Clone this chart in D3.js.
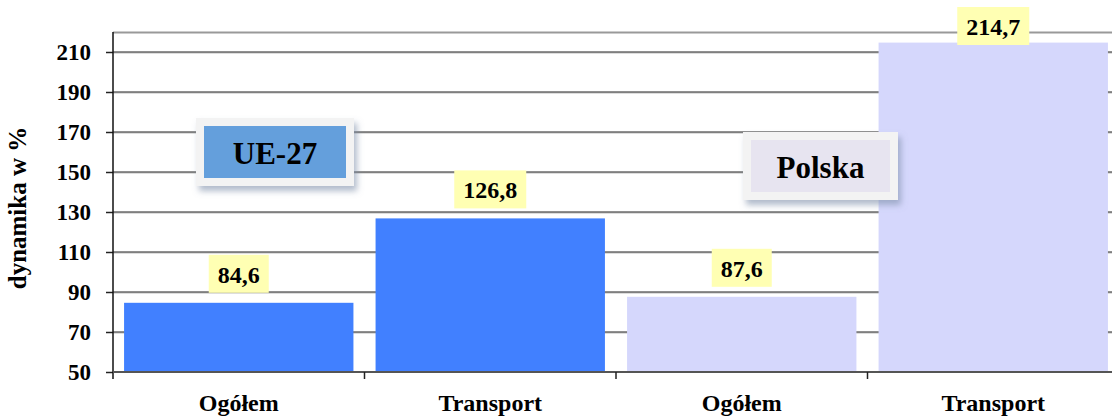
<!DOCTYPE html>
<html>
<head>
<meta charset="utf-8">
<script src="https://cdn.jsdelivr.net/npm/d3@7"></script>
<style>
  body { margin: 0; background: #fff; }
  text { font-family: "Liberation Serif", "Times New Roman", serif; font-weight: bold; fill: #000; }
</style>
</head>
<body>
<svg id="chart"></svg>
<script>
// dane
const categories = ["Ogółem", "Transport", "Ogółem", "Transport"];
const groups = ["UE-27", "UE-27", "Polska", "Polska"];
const values = [84.6, 126.8, 87.6, 214.7];
const yTicks = [50, 70, 90, 110, 130, 150, 170, 190, 210];
const legendItems = ["UE-27", "Polska"];

const W = 1112, H = 419;
const plotLeft = 113, plotRight = 1119, plotTop = 32, plotBottom = 372;

const svg = d3.select("#chart").attr("width", W).attr("height", H);

const defs = svg.append("defs");
defs.append("filter").attr("id", "shadow")
  .attr("x", "-20%").attr("y", "-30%").attr("width", "150%").attr("height", "180%")
  .append("feDropShadow")
  .attr("dx", 3).attr("dy", 5).attr("stdDeviation", 3)
  .attr("flood-color", "#7d8da8").attr("flood-opacity", 0.6);

const idx = d3.range(values.length);
const x = d3.scaleBand().domain(idx).range([plotLeft, plotRight])
  .paddingInner(0.088).paddingOuter(0.044);
const step = x.step();
const y = d3.scaleLinear().domain([50, 220]).range([plotBottom, plotTop]);

const barColor = (i) => groups[i] === "UE-27" ? "#4180ff" : "#d5d7fc";

// linie siatki
const grid = svg.append("g");
yTicks.filter((t) => t > 50).forEach((t) => {
  grid.append("line").attr("x1", plotLeft).attr("x2", W)
    .attr("y1", y(t) + 1).attr("y2", y(t) + 1)
    .attr("stroke", "#bbb").attr("stroke-width", 1);
  grid.append("line").attr("x1", plotLeft).attr("x2", W)
    .attr("y1", y(t)).attr("y2", y(t))
    .attr("stroke", "#222").attr("stroke-width", 1.2);
});
// górna ramka
svg.append("line").attr("x1", plotLeft).attr("x2", W)
  .attr("y1", plotTop + 0.5).attr("y2", plotTop + 0.5)
  .attr("stroke", "#999").attr("stroke-width", 2);

// słupki
svg.selectAll("rect.bar").data(idx).enter().append("rect")
  .attr("class", "bar")
  .attr("x", (i) => x(i))
  .attr("width", x.bandwidth())
  .attr("y", (i) => y(values[i]))
  .attr("height", (i) => plotBottom - y(values[i]))
  .attr("fill", (i) => barColor(i));

// oś Y
const yAxis = svg.append("g")
  .attr("transform", `translate(${plotLeft},0)`)
  .call(d3.axisLeft(y).tickValues(yTicks).tickSize(7).tickPadding(15));
yAxis.select(".domain").remove();
yAxis.selectAll(".tick line").attr("stroke", "#222").attr("stroke-width", 1.5);
yAxis.selectAll(".tick text").style("font-size", "23px")
  .style("font-family", "Liberation Serif").style("font-weight", "bold")
  .attr("fill", "#000");
svg.append("line").attr("x1", plotLeft).attr("x2", plotLeft)
  .attr("y1", plotTop).attr("y2", plotBottom + 7)
  .attr("stroke", "#111").attr("stroke-width", 1.5);

// oś X
svg.append("line").attr("x1", plotLeft).attr("x2", W)
  .attr("y1", plotBottom).attr("y2", plotBottom)
  .attr("stroke", "#555").attr("stroke-width", 2);
idx.forEach((i) => {
  const bx = x(i) - (step - x.bandwidth()) / 2;
  if (i > 0) {
    svg.append("line").attr("x1", bx).attr("x2", bx)
      .attr("y1", plotBottom).attr("y2", plotBottom + 7)
      .attr("stroke", "#222").attr("stroke-width", 1.5);
  }
});
svg.selectAll("text.xlab").data(idx).enter().append("text")
  .attr("class", "xlab")
  .attr("x", (i) => x(i) + x.bandwidth() / 2)
  .attr("y", 411)
  .attr("text-anchor", "middle")
  .style("font-size", "24px")
  .text((i) => categories[i]);

// tytuł osi Y
svg.append("text")
  .attr("transform", `translate(26,208) rotate(-90)`)
  .attr("text-anchor", "middle")
  .style("font-size", "25px")
  .text("dynamika w %");

// etykiety wartości
const fmt = (v) => d3.format(".1f")(v).replace(".", ",");
idx.forEach((i) => {
  const g = svg.append("g");
  const t = g.append("text")
    .attr("x", x(i) + x.bandwidth() / 2)
    .attr("text-anchor", "middle")
    .style("font-size", "24px")
    .text(fmt(values[i]));
  const bb = t.node().getBBox();
  const bw = bb.width + 18, bh = 38;
  const by = Math.max(7, y(values[i]) - 10 - bh);
  t.attr("y", by + bh - 10);
  g.insert("rect", "text")
    .attr("x", x(i) + x.bandwidth() / 2 - bw / 2)
    .attr("y", by).attr("width", bw).attr("height", bh)
    .attr("fill", "#ffffb3");
});

// legenda (pola z nazwami)
const legendPos = [
  { x: 196, y: 118, w: 158, h: 68, fill: "#649fdc" },
  { x: 743, y: 132, w: 155, h: 68, fill: "#e7e4f0" }
];
legendItems.forEach((name, k) => {
  const p = legendPos[k];
  const g = svg.append("g");
  g.append("rect").attr("x", p.x).attr("y", p.y).attr("width", p.w).attr("height", p.h)
    .attr("fill", "#f3f3f3").attr("filter", "url(#shadow)");
  g.append("rect").attr("x", p.x + 8).attr("y", p.y + 8)
    .attr("width", p.w - 16).attr("height", p.h - 16)
    .attr("fill", p.fill);
  g.append("text")
    .attr("x", p.x + p.w / 2).attr("y", p.y + 46)
    .attr("text-anchor", "middle")
    .style("font-size", "31px")
    .text(name);
});
</script>
</body>
</html>
